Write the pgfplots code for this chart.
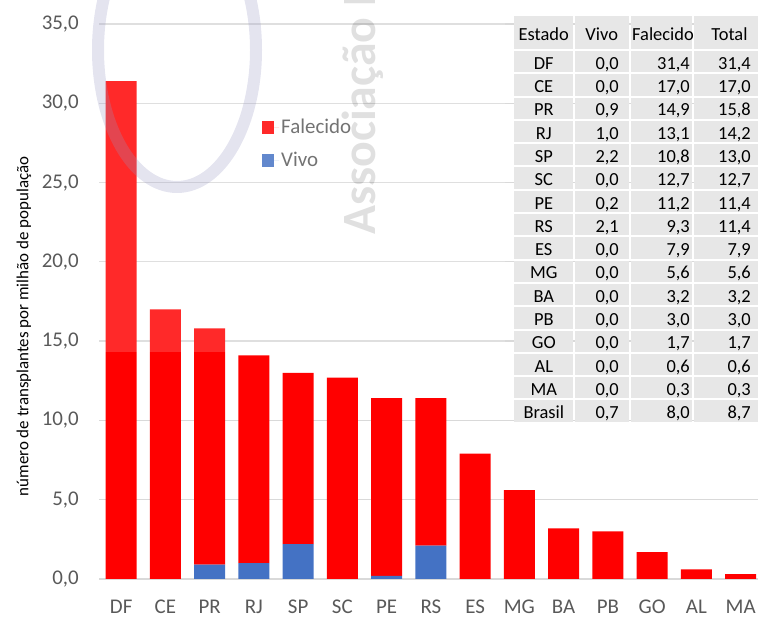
\documentclass[border=0pt]{standalone}
\usepackage{pgfplots}
\pgfplotsset{compat=1.18}
\usepackage{fontspec}
\setmainfont{Carlito}
\definecolor{redbar}{RGB}{255,0,0}
\definecolor{bluebar}{RGB}{68,114,196}
\definecolor{gridgray}{RGB}{217,217,217}
\definecolor{txtgray}{RGB}{89,89,89}
\definecolor{cellgray}{RGB}{231,231,231}
\definecolor{ringcol}{RGB}{150,150,195}
\pgfkeys{/pgf/number format/.cd, fixed, fixed zerofill, precision=1, use comma, assume math mode=true}
\pgfplotsset{mylegend/.style={legend image code/.code={\path (0bp,0bp) -- (17bp,0bp); \fill[##1] (0bp,-6.5bp) rectangle (12bp,6.5bp);}}}
\begin{document}
\begin{tikzpicture}[x=1bp,y=1bp]
\begin{axis}[
  at={(99bp,38bp)}, anchor=south west,
  scale only axis, width=663.75bp, height=555bp,
  ybar stacked, bar width=31bp,
  xmin=-0.5, xmax=14.5, ymin=0, ymax=35,
  enlargelimits=false,
  xtick=data, xticklabels={DF,CE,PR,RJ,SP,SC,PE,RS,ES,MG,BA,PB,GO,AL,MA},
  ytick={0,5,...,35},
  ymajorgrids, grid style={gridgray, line width=1.3bp},
  axis line style={draw=none},
  major tick length=0pt,
  tick label style={font=\fontsize{21}{25}\selectfont, text=txtgray},
  yticklabel style={anchor=east, inner sep=0pt, xshift=-20bp},
  xticklabel style={anchor=base, inner sep=0pt, yshift=-35bp},
  ylabel={número de transplantes por milhão de população},
  ylabel style={at={(axis description cs:-0.1065,0.455)}, anchor=base, font=\fontsize{17}{19}\selectfont, text=black},
  legend style={at={(axis description cs:0.2456,0.832)}, anchor=north west, draw=none, fill=none,
    font=\fontsize{21}{25}\selectfont, text=txtgray, row sep=13bp, inner sep=0pt},
  legend cell align=left, reverse legend,
]
\addplot[fill=bluebar, draw=none, mylegend] coordinates {
(0,0.0) (1,0.0) (2,0.9) (3,1.0) (4,2.2) (5,0.0) (6,0.2) (7,2.1)
(8,0.0) (9,0.0) (10,0.0) (11,0.0) (12,0.0) (13,0.0) (14,0.0)};
\addlegendentry{Vivo}
\addplot[fill=redbar, draw=none, mylegend] coordinates {
(0,31.4) (1,17.0) (2,14.9) (3,13.1) (4,10.8) (5,12.7) (6,11.2) (7,9.3)
(8,7.9) (9,5.6) (10,3.2) (11,3.0) (12,1.7) (13,0.6) (14,0.3)};
\addlegendentry{Falecido}
\end{axis}
% watermark
\fill[white, opacity=0.16] (99,265) rectangle (505,617);
\draw[ringcol, opacity=0.26, line width=12bp] (177,567) ellipse [x radius=79bp, y radius=137bp];
\node[rotate=90, anchor=base west, inner sep=0pt, text=black, opacity=0.12,
  font=\bfseries\fontsize{48}{48}\selectfont] at (375,382) {Associação Brasileira};
% table
\foreach \xa/\xb in {513/574,574/630,630/693,693/762}{
  \fill[cellgray] (\xa+1,617-16) rectangle (\xb-1,617-49);
}
\begin{scope}[font=\fontsize{18.5}{21}\selectfont]
\node[anchor=base, inner sep=0pt] at (543.8,617-40.7) {Estado};
\node[anchor=base, inner sep=0pt] at (601.7,617-40.7) {Vivo};
\node[anchor=base, inner sep=0pt] at (663,617-40.7) {Falecido};
\node[anchor=base, inner sep=0pt] at (729.5,617-40.7) {Total};
\foreach \s/\a/\b/\c [count=\i from 0] in {
  DF/0.0/31.4/31.4, CE/0.0/17.0/17.0, PR/0.9/14.9/15.8, RJ/1.0/13.1/14.2,
  SP/2.2/10.8/13.0, SC/0.0/12.7/12.7, PE/0.2/11.2/11.4, RS/2.1/9.3/11.4,
  ES/0.0/7.9/7.9, MG/0.0/5.6/5.6, BA/0.0/3.2/3.2, PB/0.0/3.0/3.0,
  GO/0.0/1.7/1.7, AL/0.0/0.6/0.6, MA/0.0/0.3/0.3, Brasil/0.7/8.0/8.7}{
  \pgfmathsetmacro\yt{617-50-\i*23.3}
  \pgfmathsetmacro\yb{\yt-23.3}
  \pgfmathsetmacro\ybase{\yt-19.3}
  \foreach \xa/\xb in {513/574,574/630,630/693,693/762}{
    \fill[cellgray] (\xa+1,\yb+1) rectangle (\xb-1,\yt-1);
  }
  \node[anchor=base, inner sep=0pt] at (543.8,\ybase) {\s};
  \node[anchor=base east, inner sep=0pt] at (619,\ybase) {\pgfmathprintnumber{\a}};
  \node[anchor=base east, inner sep=0pt] at (690,\ybase) {\pgfmathprintnumber{\b}};
  \node[anchor=base east, inner sep=0pt] at (751,\ybase) {\pgfmathprintnumber{\c}};
}
\end{scope}
\pgfresetboundingbox
\path[use as bounding box] (0,0) rectangle (758,617);
\end{tikzpicture}
\end{document}
